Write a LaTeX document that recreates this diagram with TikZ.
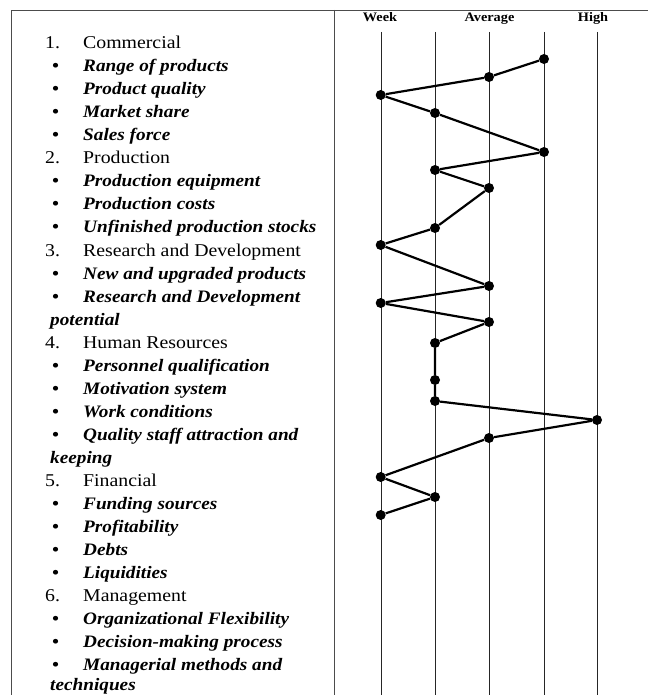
\documentclass[tikz,border=0pt]{standalone}
\usepackage{fontspec}
\setmainfont[FakeStretch=1.1]{Liberation Serif}
\usepackage{tikz}

\newcommand{\num}[1]{\makebox[38pt][l]{#1}}
\newcommand{\bul}{\makebox[31pt][l]{\textbullet}}

\begin{document}
\begin{tikzpicture}[x=1pt,y=-1pt,
    grp/.style={anchor=base west,inner sep=0pt,font=\fontsize{18}{20}\selectfont},
    sub/.style={anchor=base west,inner sep=0pt,font=\fontsize{17.5}{20}\selectfont\bfseries\itshape},
    lvl/.style={anchor=base,inner sep=0pt,font=\fontsize{13}{14}\selectfont\bfseries},
    rate/.style={circle,fill,inner sep=0pt,minimum size=10pt}]
    \useasboundingbox (0,0) rectangle (648,695);

    % table frame
    \draw[black!70] (11,695)--(11,10)--(648,10);
    \draw[black!70] (334,10)--(334,695);

    % scale
    \node[lvl] (week) at (380,22) {Week};
    \node[lvl] (avg) at (489.5,22) {Average};
    \node[lvl] (high) at (593,22) {High};
    \draw[black!85] (380.7,32)--(380.7,695);
    \draw[black!85] (435,32)--(435,695);
    \draw[black!85] (489,32)--(489,695);
    \draw[black!85] (544,32)--(544,695);
    \draw[black!85] (597,32)--(597,695);

    % criteria
    \node[grp] (c1) at (45,48.5) {\num{1.}Commercial};
    \node[sub] (c11) at (52,71.6) {\bul Range of products};
    \node[sub] (c12) at (52,94.6) {\bul Product quality};
    \node[sub] (c13) at (52,117.7) {\bul Market share};
    \node[sub] (c14) at (52,140.7) {\bul Sales force};
    \node[grp] (c2) at (45,163.8) {\num{2.}Production};
    \node[sub] (c21) at (52,186.8) {\bul Production equipment};
    \node[sub] (c22) at (52,209.9) {\bul Production costs};
    \node[sub] (c23) at (52,232.9) {\bul Unfinished production stocks};
    \node[grp] (c3) at (45,256) {\num{3.}Research and Development};
    \node[sub] (c31) at (52,279) {\bul New and upgraded products};
    \node[sub] (c32) at (52,302) {\bul Research and Development};
    \node[sub] (c32b) at (50,325.1) {potential};
    \node[grp] (c4) at (45,348.2) {\num{4.}Human Resources};
    \node[sub] (c41) at (52,371.2) {\bul Personnel qualification};
    \node[sub] (c42) at (52,394.3) {\bul Motivation system};
    \node[sub] (c43) at (52,417.3) {\bul Work conditions};
    \node[sub] (c44) at (52,440.4) {\bul Quality staff attraction and};
    \node[sub] (c44b) at (50,463.4) {keeping};
    \node[grp] (c5) at (45,486.5) {\num{5.}Financial};
    \node[sub] (c51) at (52,509.5) {\bul Funding sources};
    \node[sub] (c52) at (52,532.6) {\bul Profitability};
    \node[sub] (c53) at (52,555.6) {\bul Debts};
    \node[sub] (c54) at (52,578.7) {\bul Liquidities};
    \node[grp] (c6) at (45,601.7) {\num{6.}Management};
    \node[sub] (c61) at (52,624.8) {\bul Organizational Flexibility};
    \node[sub] (c62) at (52,647.8) {\bul Decision-making process};
    \node[sub] (c63) at (52,670.9) {\bul Managerial methods and};
    \node[sub] (c63b) at (50,690.5) {techniques};

    % profile
    \node[rate] (p1) at (544,59) {};
    \node[rate] (p2) at (489,77) {};
    \node[rate] (p3) at (380.7,95) {};
    \node[rate] (p4) at (435,113) {};
    \node[rate] (p5) at (544,152) {};
    \node[rate] (p6) at (435,170) {};
    \node[rate] (p7) at (489,188) {};
    \node[rate] (p8) at (435,228) {};
    \node[rate] (p9) at (380.7,245) {};
    \node[rate] (p10) at (489,286) {};
    \node[rate] (p11) at (380.7,303) {};
    \node[rate] (p12) at (489,322) {};
    \node[rate] (p13) at (435,343) {};
    \node[rate] (p14) at (435,380) {};
    \node[rate] (p15) at (435,401) {};
    \node[rate] (p16) at (597,420) {};
    \node[rate] (p17) at (489,438) {};
    \node[rate] (p18) at (380.7,477) {};
    \node[rate] (p19) at (435,497) {};
    \node[rate] (p20) at (380.7,515) {};
    \draw[line width=2.2pt] (p1)--(p2)--(p3)--(p4)--(p5)--(p6)--(p7)--(p8)--(p9)--(p10);
    \draw[line width=2.2pt] (p10)--(p11)--(p12)--(p13)--(p14)--(p15)--(p16)--(p17)--(p18)--(p19)--(p20);
\end{tikzpicture}
\end{document}
